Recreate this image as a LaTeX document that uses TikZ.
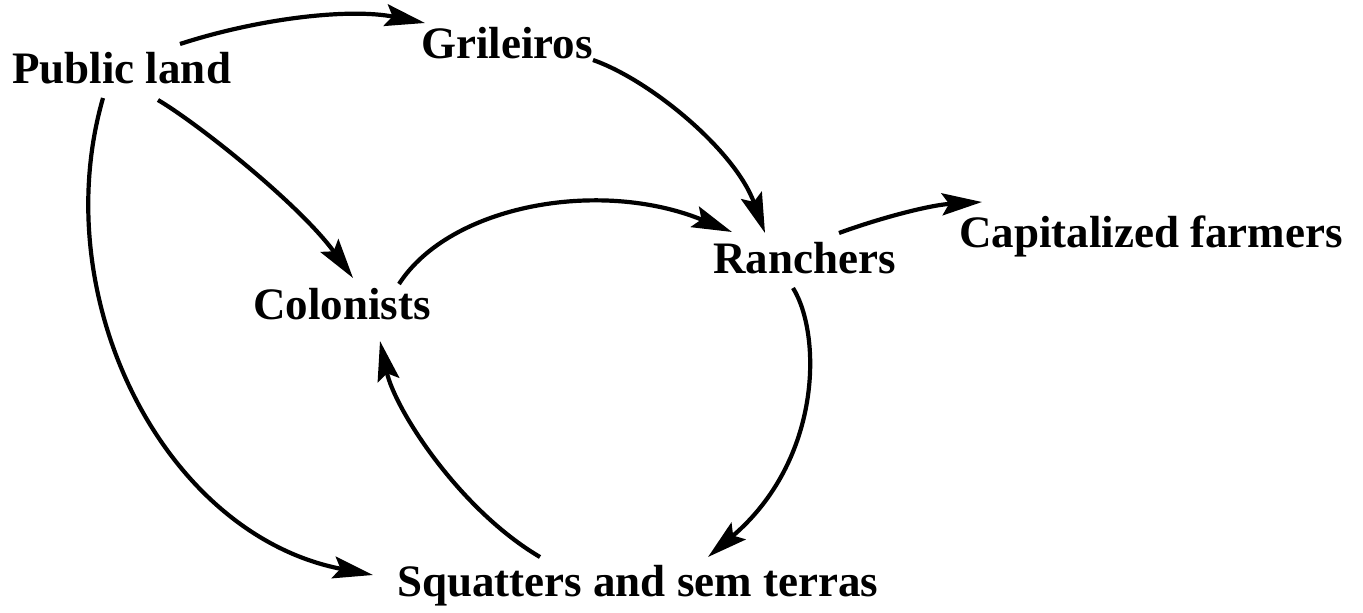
\documentclass[tikz,border=0pt]{standalone}
\usepackage{fontspec}
\setmainfont{Liberation Serif}
\usetikzlibrary{arrows.meta}
\begin{document}
\begin{tikzpicture}[x=1pt,y=-1pt,
  lbl/.style={anchor=base west,inner sep=0pt,font=\fontsize{45}{54}\selectfont\bfseries},
  flow/.style={line width=4.2pt,-{Stealth[length=40pt,width=22pt,inset=7pt]}}]
\useasboundingbox (0,0) rectangle (1363,613);
\node[lbl] (pub) at (12,83) {Public land};
\node[lbl] (gri) at (421,58) {Grileiros};
\node[lbl] (ran) at (713,273) {Ranchers};
\node[lbl] (cap) at (959,247) {Capitalized farmers};
\node[lbl] (col) at (253,319) {Colonists};
\node[lbl] (squ) at (397,596) {Squatters and sem terras};
% Public land -> Grileiros
\draw[flow] ([shift={(168,-39)}]pub.base west) .. controls (260,18) and (350,8) .. ([shift={(4,-35)}]gri.base west);
% Grileiros -> Ranchers
\draw[flow] ([shift={(172,2)}]gri.base west) .. controls (650,80) and (735,150) .. ([shift={(52,-40)}]ran.base west);
% Public land -> Colonists
\draw[flow] ([shift={(146,17)}]pub.base west) .. controls (200,125) and (300,205) .. ([shift={(100,-41)}]col.base west);
% Colonists -> Ranchers
\draw[flow] ([shift={(146,-35)}]col.base west) .. controls (450,205) and (600,178) .. ([shift={(19,-41)}]ran.base west);
% Ranchers -> Capitalized farmers
\draw[flow] ([shift={(126,-40)}]ran.base west) .. controls (880,218) and (930,205) .. ([shift={(23,-45)}]cap.base west);
% Ranchers -> Squatters
\draw[flow] ([shift={(80,15)}]ran.base west) .. controls (822,335) and (822,460) .. ([shift={(311,-39)}]squ.base west);
% Squatters -> Colonists
\draw[flow] ([shift={(143,-39)}]squ.base west) .. controls (460,510) and (395,410) .. ([shift={(127,22)}]col.base west);
% Public land -> Squatters
\draw[flow] ([shift={(91,15)}]pub.base west) .. controls (45,300) and (165,535) .. ([shift={(-24,-21)}]squ.base west);
\end{tikzpicture}
\end{document}
